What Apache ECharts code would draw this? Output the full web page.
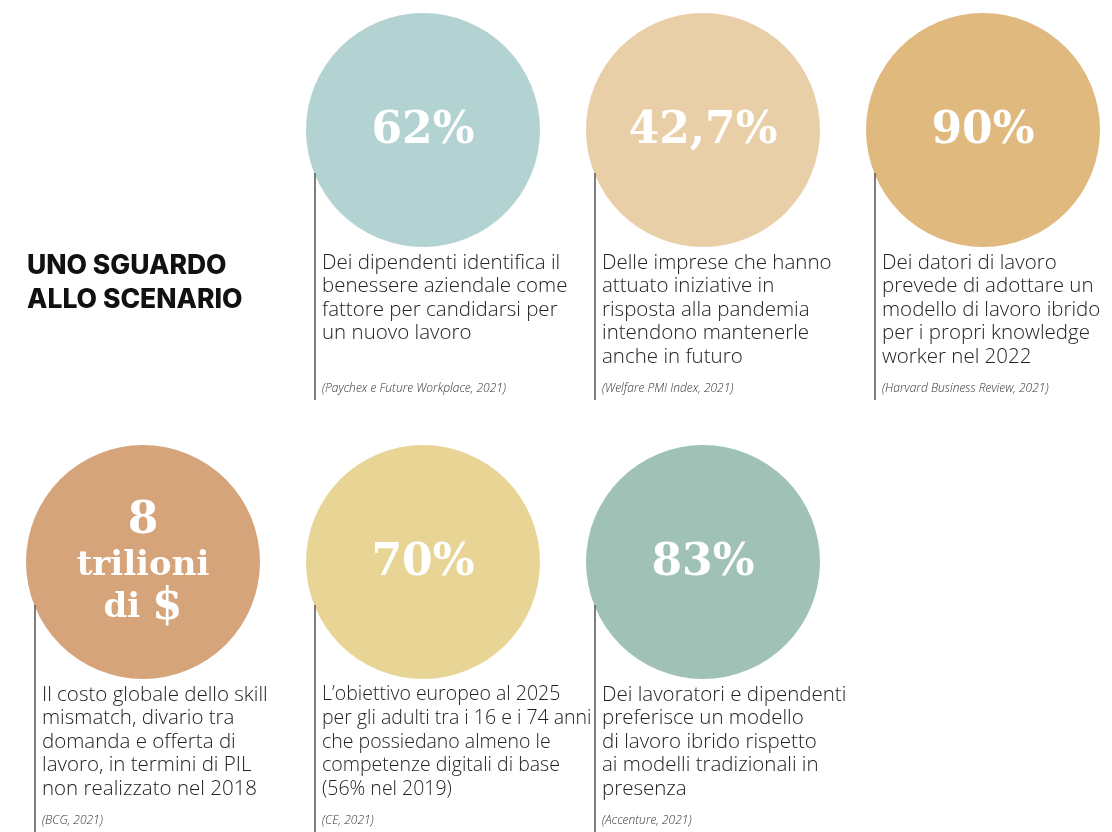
<!DOCTYPE html>
<html><head><meta charset="utf-8">
<script src="https://cdn.jsdelivr.net/npm/echarts@6/dist/echarts.min.js"></script>
<style>html,body{margin:0;padding:0;background:#fff}#c{width:1112px;height:832px}</style>
</head><body><div id="c"></div>
<script>
const cols = [1, 2, 3, 0, 1, 2];
const rows = [0, 0, 0, 1, 1, 1];
const values = ['62%', '42,7%', '90%', '8\ntrilioni\ndi $', '70%', '83%'];
const colors = ['#b3d2d2', '#e9cfa7', '#dfb97d', '#d6a47b', '#e8d596', '#9fc1b6'];
const descriptions = [
  'Dei dipendenti identifica il\nbenessere aziendale come\nfattore per candidarsi per\nun nuovo lavoro',
  'Delle imprese che hanno\nattuato iniziative in\nrisposta alla pandemia\nintendono mantenerle\nanche in futuro',
  'Dei datori di lavoro\nprevede di adottare un\nmodello di lavoro ibrido\nper i propri knowledge\nworker nel 2022',
  'Il costo globale dello skill\nmismatch, divario tra\ndomanda e offerta di\nlavoro, in termini di PIL\nnon realizzato nel 2018',
  'L\u2019obiettivo europeo al 2025\nper gli adulti tra i 16 e i 74 anni\nche possiedano almeno le\ncompetenze digitali di base\n(56% nel 2019)',
  'Dei lavoratori e dipendenti\npreferisce un modello\ndi lavoro ibrido rispetto\nai modelli tradizionali in\npresenza'
];
const sources = [
  '(Paychex e Future Workplace, 2021)',
  '(Welfare PMI Index, 2021)',
  '(Harvard Business Review, 2021)',
  '(BCG, 2021)',
  '(CE, 2021)',
  '(Accenture, 2021)'
];
const title = 'UNO SGUARDO\nALLO SCENARIO';

const chart = echarts.init(document.getElementById('c'), null, {renderer: 'canvas'});
const data = values.map((v, i) => ({
  value: [cols[i], rows[i]],
  itemStyle: {color: colors[i], opacity: 1},
  label: i === 3 ? {
    formatter: '{a|8}\n{b|trilioni}\n{b|di }{c|$}',
    rich: {
      a: {fontFamily: 'DejaVu Serif', fontWeight: 'bold', fontSize: 44, color: '#fff', lineHeight: 46},
      b: {fontFamily: 'DejaVu Serif', fontWeight: 'bold', fontSize: 34, color: '#fff', lineHeight: 42},
      c: {fontFamily: 'DejaVu Serif', fontWeight: 'bold', fontSize: 44, color: '#fff', lineHeight: 42}
    },
    offset: [0, 2]
  } : {}
}));
chart.setOption({
  animation: false,
  grid: {left: 3, top: -86, width: 1120, height: 864, outerBoundsMode: 'none', containLabel: false},
  xAxis: {type: 'value', min: -0.5, max: 3.5, show: false},
  yAxis: {type: 'value', min: -0.5, max: 1.5, inverse: true, show: false},
  series: [{
    type: 'scatter',
    symbol: 'circle',
    symbolSize: 234,
    data: data,
    silent: true,
    label: {
      show: true,
      position: 'inside',
      formatter: p => values[p.dataIndex],
      fontFamily: 'DejaVu Serif',
      fontWeight: 'bold',
      fontSize: 44,
      color: '#fff',
      offset: [0, 2]
    }
  }]
});

const g = [];
g.push({type: 'text', left: 27, top: 249, style: {text: title, font: '800 26.5px Inter', fill: '#111', lineHeight: 34}});
values.forEach((v, i) => {
  const p = chart.convertToPixel({gridIndex: 0}, [cols[i], rows[i]]);
  const cx = p[0], cy = p[1];
  const fs = i === 4 ? 19.5 : 20.5;
  g.push({type: 'line', z: 10, shape: {x1: cx - 108, y1: cy + 43, x2: cx - 108, y2: cy + 270}, style: {stroke: '#555', lineWidth: 1.5}});
  g.push({type: 'text', z: 10, x: cx - 101, y: cy + 121, style: {text: descriptions[i], font: '300 ' + fs + 'px "Open Sans"', fill: '#222', lineHeight: 23.6, verticalAlign: 'top'}});
  g.push({type: 'text', z: 10, x: cx - 101, y: cy + 253, style: {text: sources[i], font: 'italic 300 12px "Open Sans"', fill: '#333', verticalAlign: 'top'}});
});
chart.setOption({graphic: g});
</script></body></html>
